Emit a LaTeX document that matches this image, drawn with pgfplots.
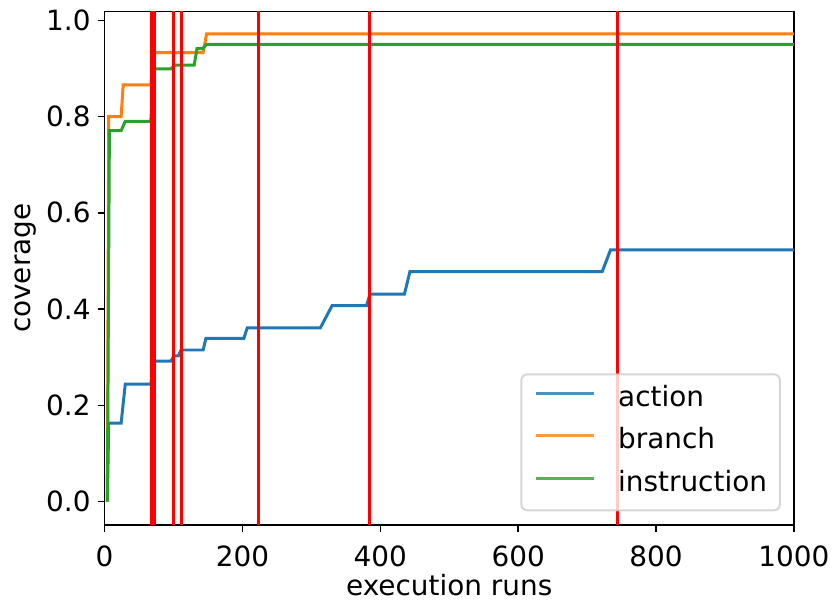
\documentclass[border=0pt]{standalone}
\usepackage{pgfplots}
\pgfplotsset{compat=1.18}
\usepackage{fontspec}
\setmainfont{DejaVu Sans}
\definecolor{cA}{HTML}{1F77B4}
\definecolor{cB}{HTML}{FF7F0E}
\definecolor{cC}{HTML}{2CA02C}
\definecolor{legedge}{RGB}{204,204,204}
\begin{document}
\begin{tikzpicture}
\begin{axis}[
  scale only axis,
  width=346pt, height=257.75pt,
  xmin=0, xmax=1000,
  ymin=-0.0485, ymax=1.0185,
  xtick={0,200,400,600,800,1000},
  ytick={0,0.2,0.4,0.6,0.8,1.0},
  xticklabel style={/pgf/number format/.cd, 1000 sep={}},
  yticklabel style={/pgf/number format/.cd, fixed, fixed zerofill, precision=1},
  /pgf/number format/assume math mode=true,
  xticklabel shift=3.33pt,
  tick align=outside,
  xtick pos=bottom, ytick pos=left,
  major tick length=3.5pt,
  every tick/.style={black, line width=0.8pt},
  axis line style={line width=0.8pt},
  tick label style={font=\fontsize{14}{16.8}\selectfont},
  label style={font=\fontsize{14}{16.8}\selectfont},
  xlabel={execution runs},
  ylabel={coverage},
  xlabel style={at={([yshift=-35.5pt]axis description cs:0.5,0)}, anchor=base, inner sep=0pt},
  ylabel style={at={([xshift=-37.35pt]axis description cs:0,0.5)}, anchor=base, inner sep=0pt},
  legend cell align=left,
  legend style={
    at={(axis description cs:1,0)}, anchor=south east,
    xshift=-6.5pt, yshift=6.85pt,
    draw=legedge, line width=1pt, rounded corners=3pt,
    fill=white, fill opacity=0.8, draw opacity=0.8, text opacity=1,
    font=\fontsize{14}{16.8}\selectfont,
    inner xsep=6.5pt, inner ysep=5.6pt,
    row sep=7pt,
    nodes={inner sep=0pt, text height=10.5pt, text depth=3.85pt},
    /tikz/every odd column/.append style={column sep=11.6pt},
  },
  legend image code/.code={\draw[#1] (0pt,3.3pt) -- (29pt,3.3pt);},
]
\addplot[cA, line width=1.5pt] coordinates {
(4,0) (6,0.163) (24,0.163) (30,0.244) (67,0.244) (72,0.292) (96,0.292)
(101,0.303) (107,0.303) (111,0.315) (143,0.315) (147,0.339) (202,0.339)
(207,0.361) (313,0.361) (330,0.407) (380,0.407) (385,0.431) (435,0.431)
(443,0.478) (722,0.478) (734,0.523) (1000,0.523)};
\addlegendentry{action}
\addplot[cB, line width=1.5pt] coordinates {
(4,0) (6,0.8) (24,0.8) (27,0.866) (67,0.866) (72,0.933) (143,0.933)
(148,0.972) (1000,0.972)};
\addlegendentry{branch}
\addplot[cC, line width=1.5pt] coordinates {
(4,0) (7,0.771) (24,0.771) (30,0.79) (67,0.79) (72,0.899) (96,0.899)
(102,0.907) (130,0.907) (134,0.941) (142,0.941) (148,0.950) (1000,0.950)};
\addlegendentry{instruction}
\addplot[red, line width=1.5pt, forget plot] coordinates {(67.5,-1) (67.5,2)};
\addplot[red, line width=1.5pt, forget plot] coordinates {(72,-1) (72,2)};
\addplot[red, line width=1.5pt, forget plot] coordinates {(100.6,-1) (100.6,2)};
\addplot[red, line width=1.5pt, forget plot] coordinates {(111.7,-1) (111.7,2)};
\addplot[red, line width=1.5pt, forget plot] coordinates {(222.8,-1) (222.8,2)};
\addplot[red, line width=1.5pt, forget plot] coordinates {(384.2,-1) (384.2,2)};
\addplot[red, line width=1.5pt, forget plot] coordinates {(743.6,-1) (743.6,2)};
\end{axis}
\path ([xshift=-52.5pt,yshift=-39.5pt]current axis.south west) rectangle ([xshift=19.5pt,yshift=5.75pt]current axis.north east);
\end{tikzpicture}
\end{document}
